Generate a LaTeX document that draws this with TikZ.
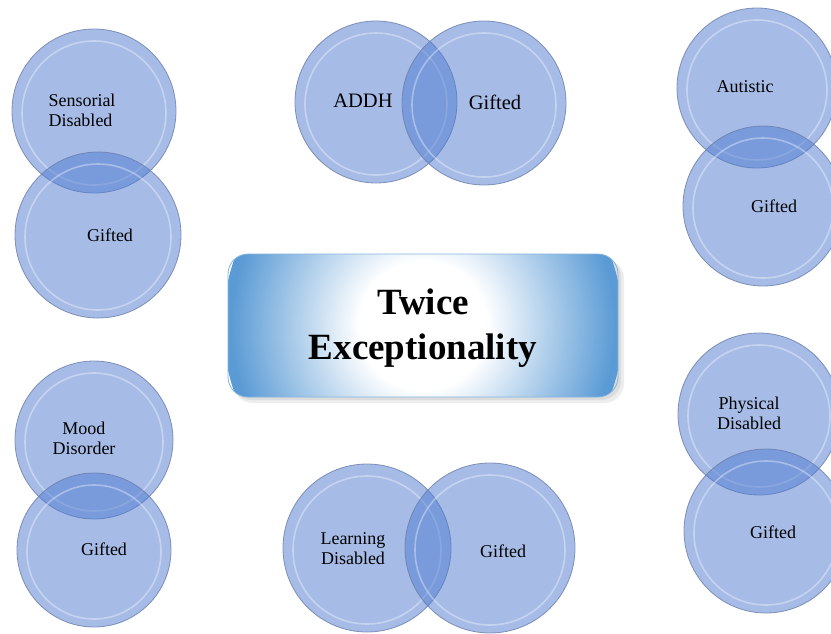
\documentclass[tikz,border=0pt]{standalone}
\usepackage{fontspec}
\setmainfont{Liberation Serif}
\definecolor{bubblefill}{HTML}{4F7BD0}
\definecolor{bubbleline}{HTML}{6A7DAA}
\definecolor{boxblue}{HTML}{5B9BD5}
\pgfdeclareradialshading{boxshade}{\pgfpoint{0bp}{0bp}}{color(0bp)=(white); color(8bp)=(white); color(24bp)=(boxblue); color(50bp)=(boxblue)}
\tikzset{
  bubble/.style={circle, inner sep=0pt, outer sep=0pt, fill=bubblefill, fill opacity=0.5,
    draw=bubbleline, draw opacity=0.8, line width=0.8pt},
  rim/.style={draw=white, draw opacity=0.35, line width=1.6pt},
  lbl/.style={font=\fontsize{18}{20}\selectfont, align=center, inner sep=0pt, text=black},
  lblbig/.style={font=\fontsize{20.5}{23}\selectfont, inner sep=0pt, text=black},
  titlebox/.style={rectangle, rounded corners=20pt, minimum width=390pt, minimum height=143pt,
    inner sep=0pt, draw=boxblue!75, line width=0.8pt,
    path picture={\shade[shading=boxshade] (path picture bounding box.center) circle[radius=200pt];}},
  boxshadow/.style={fill=black, fill opacity=0.07, rounded corners=20pt},
  title/.style={font=\fontsize{37}{45}\selectfont\bfseries, align=center, inner sep=0pt, text=black},
}
\newcommand\bubble[4]{%
  \node[bubble, minimum size={2*#4pt}] (#1) at (#2,#3) {};
  \draw[rim] ([yshift=-2pt]#1.center) circle[radius={#4pt-10pt}];
}
\begin{document}
\begin{tikzpicture}[x=1pt,y=-1pt]
\useasboundingbox[fill=white] (0,0) rectangle (831,633);
% top left
\bubble{sd}{94}{111}{82}
\bubble{g1}{98}{235}{83}
\node[lbl, align=left] (tsd) at (82,110) {Sensorial\\Disabled};
\node[lbl] (tg1) at (110,235) {Gifted};
% top middle
\bubble{ad}{376}{102}{81}
\bubble{g2}{484}{103}{82}
\node[lblbig] (tad) at (363,101) {ADDH};
\node[lblbig] (tg2) at (495,102) {Gifted};
% top right
\bubble{au}{757}{88}{80}
\bubble{g3}{763}{206}{80}
\node[lbl] (tau) at (745,87) {Autistic};
\node[lbl] (tg3) at (774,206) {Gifted};
% bottom left
\bubble{md}{94}{440}{79}
\bubble{g4}{94}{550}{77}
\node[lbl] (tmd) at (84,438) {Mood\\Disorder};
\node[lbl] (tg4) at (104,549) {Gifted};
% bottom middle
\bubble{ld}{367}{548}{84}
\bubble{g5}{490}{548}{85}
\node[lbl] (tld) at (353,549) {Learning\\Disabled};
\node[lbl] (tg5) at (503,551) {Gifted};
% bottom right
\bubble{pd}{759}{414}{81}
\bubble{g6}{766}{531}{82}
\node[lbl] (tpd) at (749,413) {Physical\\Disabled};
\node[lbl] (tg6) at (773,532) {Gifted};
% centre box
\fill[boxshadow] (233,259) rectangle (624,403);
\fill[boxshadow] (231,257) rectangle (621,400);
\node[titlebox] (box) at (423,325.5) {};
\node[title] (ttl) at ([yshift=-3pt]box.center) {Twice\\Exceptionality};
\end{tikzpicture}
\end{document}
